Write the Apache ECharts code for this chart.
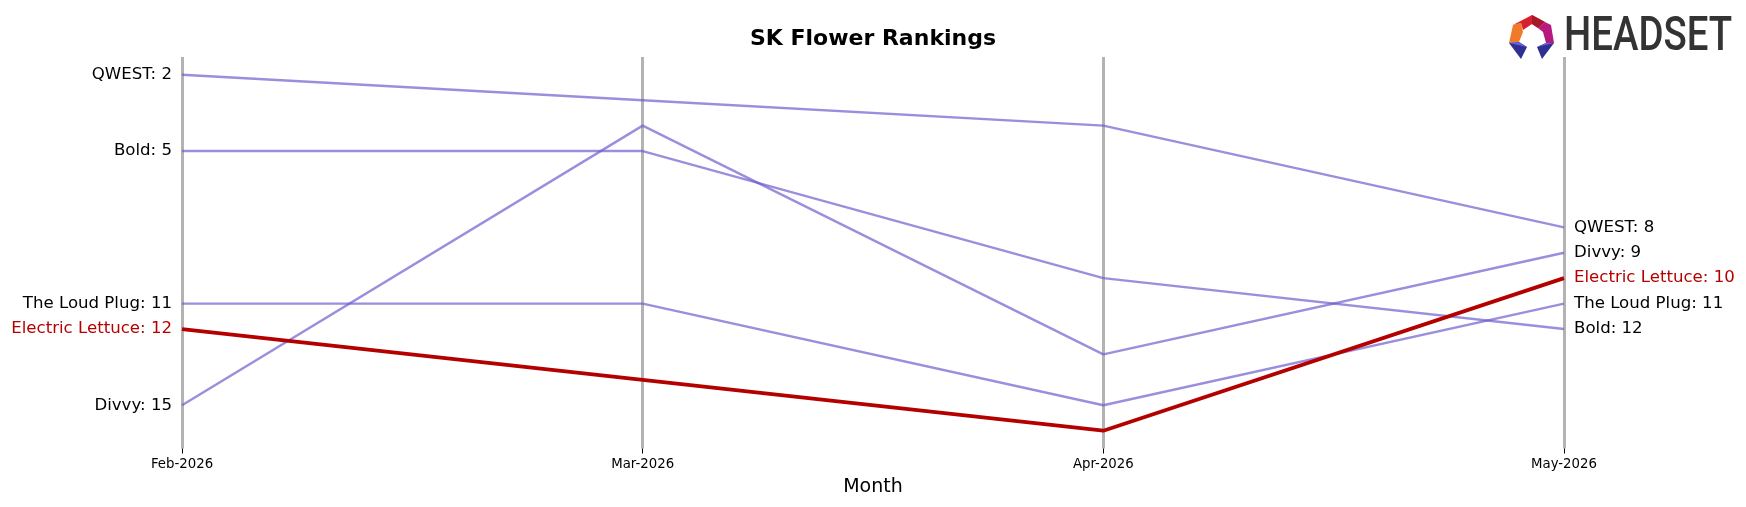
<!DOCTYPE html>
<html>
<head>
<meta charset="utf-8">
<script src="https://cdn.jsdelivr.net/npm/echarts@6/dist/echarts.min.js"></script>
<style>html,body{margin:0;padding:0;background:#fff;}#c{width:1746px;height:507px;}</style>
</head>
<body>
<div id="c"></div>
<script>
const months = ['Feb-2026', 'Mar-2026', 'Apr-2026', 'May-2026'];
const qwest = [2, 3, 4, 8];
const bold = [5, 5, 10, 12];
const divvy = [15, 4, 13, 9];
const loudPlug = [11, 11, 15, 11];
const electricLettuce = [12, 14, 16, 10];

const brands = [
  { name: 'QWEST', data: qwest },
  { name: 'Bold', data: bold },
  { name: 'Divvy', data: divvy },
  { name: 'The Loud Plug', data: loudPlug },
  { name: 'Electric Lettuce', data: electricLettuce, highlight: true }
];

const FONT = 'DejaVu Sans';
const series = brands.map(b => {
  const col = b.highlight ? '#b50000' : 'rgba(106,90,205,0.68)';
  const txt = b.highlight ? '#b50000' : '#000';
  return {
    name: b.name,
    type: 'line',
    data: b.data,
    symbol: 'circle',
    symbolSize: 0,
    showSymbol: true,
    z: b.highlight ? 5 : 3,
    lineStyle: { color: col, width: b.highlight ? 3.8 : 2.4 },
    itemStyle: { color: col },
    emphasis: { disabled: true },
    label: {
      show: true, position: 'left', distance: 10,
      fontFamily: FONT, fontSize: 16.6, color: txt,
      formatter: p => p.dataIndex === 0 ? b.name + ': ' + p.value : ''
    },
    endLabel: {
      show: true, distance: 10,
      fontFamily: FONT, fontSize: 16.6, color: txt,
      formatter: p => b.name + ': ' + p.value
    }
  };
});

const chart = echarts.init(document.getElementById('c'));
chart.setOption({
  animation: false,
  backgroundColor: '#fff',
  grid: { left: 182, right: 182, top: 57, bottom: 58.5 },
  xAxis: {
    type: 'category',
    data: months,
    boundaryGap: false,
    axisLine: { show: false },
    axisTick: { show: true, alignWithLabel: true, length: 5, lineStyle: { color: '#000', width: 1 } },
    axisLabel: { fontFamily: FONT, fontSize: 13.3, color: '#000', margin: 10 },
    splitLine: { show: true, lineStyle: { color: '#b3b3b3', width: 3 } },
    name: 'Month',
    nameLocation: 'middle',
    nameGap: 29,
    nameTextStyle: { fontFamily: FONT, fontSize: 19, color: '#000' }
  },
  yAxis: {
    type: 'value',
    inverse: true,
    min: 1.3,
    max: 16.7,
    show: false
  },
  title: {
    text: 'SK Flower Rankings',
    left: 'center',
    top: 23,
    textStyle: { fontFamily: FONT, fontSize: 22, fontWeight: 'bold', color: '#000' }
  },
  graphic: [
    { type: 'polygon', shape: { points: [[1513,25],[1521,23],[1523,32],[1519,42],[1509,43]] }, style: { fill: '#f07a2a' } },
    { type: 'polygon', shape: { points: [[1513,25],[1532,15],[1545,22],[1538,28],[1532,24],[1523,30],[1521,23]] }, style: { fill: '#d8202e' } },
    { type: 'polygon', shape: { points: [[1532,15],[1545,22],[1538,28],[1532,24]] }, style: { fill: '#a8182a' } },
    { type: 'polygon', shape: { points: [[1545,22],[1551,25],[1554,43],[1546,43],[1543,32],[1538,28]] }, style: { fill: '#b8197e' } },
    { type: 'polygon', shape: { points: [[1509,43],[1519,42],[1527,47],[1521,59]] }, style: { fill: '#2e3190' } },
    { type: 'polygon', shape: { points: [[1509,43],[1519,42],[1527,47]] }, style: { fill: '#6a5fd6' } },
    { type: 'polygon', shape: { points: [[1554,43],[1546,43],[1537,47],[1542,59]] }, style: { fill: '#2e3190' } },
    { type: 'polygon', shape: { points: [[1554,43],[1546,43],[1537,47]] }, style: { fill: '#6a5fd6' } },
    {
      type: 'text', x: 1564, y: 38, scaleX: 0.8,
      style: { text: 'HEADSET', fontFamily: 'Roboto', fontSize: 48, fontWeight: 500, fill: '#333', textVerticalAlign: 'middle', textAlign: 'left' }
    }
  ],
  series: series
});
</script>
</body>
</html>
